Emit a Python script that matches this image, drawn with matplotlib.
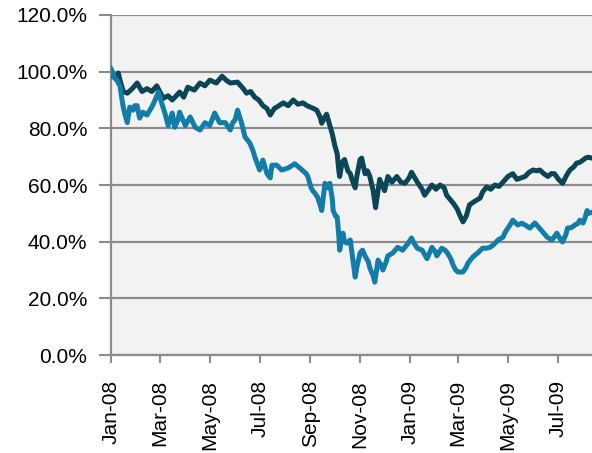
import pandas as pd
import numpy as np
import matplotlib
matplotlib.use("Agg")
import matplotlib.pyplot as plt
import matplotlib.dates as mdates
from matplotlib.ticker import FuncFormatter

# days since 1 Jan 2008, value in %
dark_days = [0, 2, 6, 9, 11, 15, 20, 26, 32, 38, 44, 50, 56, 64, 70, 75, 80, 84, 89, 94,
             102, 109, 115, 121, 129, 136, 141, 146, 155, 162, 166, 171, 176, 181, 186, 191,
             195, 200, 203, 211, 217, 223, 229, 235, 240, 244, 248, 252, 256, 258, 262, 264,
             268, 271, 274, 277, 279, 280, 283, 286, 290, 293, 295, 299, 301, 305, 307, 311,
             314, 317, 321, 324, 327, 329, 335, 339, 344, 350, 355, 360, 365, 368, 372, 376,
             381, 384, 388, 393, 398, 403, 408, 411, 415, 419, 424, 427, 431, 435, 439, 444,
             448, 452, 455, 460, 465, 470, 475, 480, 486, 492, 497, 501, 507, 512, 517, 521,
             525, 530, 535, 539, 543, 548, 553, 558, 562, 567, 570, 574, 578, 581, 584, 589]
dark_vals = [100.5, 98.5, 97.5, 99.5, 97, 93, 92.4, 94, 96, 93, 94, 93, 95, 90.6, 91.5, 90,
             91.5, 92.8, 91, 94.5, 93.5, 96, 95, 97, 96, 98.4, 97, 96, 96.3, 94, 92.4, 93,
             91, 90, 88, 87, 84.7, 87, 87.5, 89, 88, 90, 88.5, 89, 88, 87.5, 87, 86.4, 84,
             81.8, 84, 85, 81, 78, 74, 71, 65, 63, 68, 69, 65, 64, 62, 59, 63, 69, 69.5, 64,
             65, 63, 58, 52, 58, 62, 58, 63, 61, 63, 61, 60.6, 62.5, 64.5, 62.5, 60.6, 58.5,
             56.4, 58, 60, 58.5, 60, 59, 56.4, 55, 53.6, 51.5, 49.4, 47, 49, 53, 54, 54.7,
             55.4, 57.5, 59.3, 58.5, 60, 59.5, 61, 63, 64, 62, 62.4, 63, 64.5, 65.3, 65,
             65.3, 64, 63, 64, 64, 62, 60.6, 63.5, 65.3, 66.5, 67.7, 68, 68.8, 69.5, 69.8, 69.5]

blue_days = [0, 1, 4, 7, 11, 13, 15, 17, 20, 21, 23, 27, 29, 32, 35, 39, 44, 50, 54, 58,
             60, 62, 66, 70, 75, 78, 82, 84, 91, 97, 103, 109, 115, 121, 127, 133, 140, 146,
             149, 152, 155, 160, 164, 170, 174, 176, 182, 186, 191, 195, 197, 203, 209, 217,
             225, 234, 239, 241, 245, 247, 250, 253, 256, 258, 261, 262, 266, 268, 271, 272,
             275, 277, 279, 280, 284, 286, 289, 293, 296, 299, 301, 305, 308, 311, 315, 317,
             321, 323, 327, 330, 333, 337, 339, 345, 351, 357, 364, 368, 371, 375, 381, 384,
             387, 393, 397, 399, 405, 409, 412, 416, 419, 422, 425, 431, 435, 437, 443, 449,
             455, 460, 464, 468, 474, 480, 483, 486, 490, 492, 498, 503, 507, 513, 519, 524,
             527, 534, 540, 546, 550, 553, 557, 559, 564, 568, 572, 574, 578, 580, 583, 585, 589]
blue_vals = [101, 100.5, 98, 97, 95, 91, 87.5, 85, 82, 84, 87.5, 86.4, 88, 88, 83.6, 85.7,
             84.7, 87.5, 90, 92.8, 91, 89, 85.4, 81, 85.4, 80.4, 83, 85.7, 81, 84, 80.4, 79.4,
             82, 81, 85.4, 82, 82, 79.4, 82, 83, 86.4, 81.8, 77, 74.8, 72, 70, 65.3, 68.8, 64,
             62.5, 67, 67, 65.3, 66, 67.5, 65.3, 64, 63, 59, 58, 57, 55.7, 53, 51, 58, 60.6,
             59, 60.6, 55, 51, 49, 48.7, 42, 37, 43, 40, 39.5, 40.6, 34, 27.5, 31, 36, 37, 35,
             33, 30.7, 28, 25.7, 33.5, 32, 30, 33, 35, 36, 38, 37, 39.5, 41.3, 39.5, 37.7, 37,
             35.5, 34, 38, 36.5, 35, 37.7, 37, 36, 34, 31.7, 30, 29.3, 29.3, 31, 32.4, 34.6,
             36, 37.7, 37.7, 38, 38.8, 40.6, 41.6, 43.5, 44.8, 46.5, 47.6, 45.9, 46.5, 45.9,
             44.8, 46.6, 45, 44, 41.6, 40.6, 43, 41, 39.9, 42.5, 44.8, 45, 45.9, 46.5, 47.6,
             46.6, 48, 51, 50, 50.4]

tick_months = ["2008-01-01", "2008-03-01", "2008-05-01", "2008-07-01", "2008-09-01",
               "2008-11-01", "2009-01-01", "2009-03-01", "2009-05-01", "2009-07-01"]

start = pd.Timestamp("2008-01-01")
dark_dates = start + pd.to_timedelta(dark_days, unit="D")
blue_dates = start + pd.to_timedelta(blue_days, unit="D")

plt.rcParams["font.family"] = ["Liberation Sans", "DejaVu Sans"]
grey = "#8c8c8c"

fig = plt.figure(figsize=(5.92, 4.53), dpi=100)
ax = fig.add_axes([0.1875, 0.2163, 0.8125, 0.7506])
ax.set_facecolor("#f2f2f2")

ax.plot(dark_dates, dark_vals, color="#0a4656", lw=3.6, solid_joinstyle="round", zorder=3)
ax.plot(blue_dates, blue_vals, color="#117da8", lw=3.6, solid_joinstyle="round", zorder=3)

ax.set_ylim(0, 120)
ax.set_yticks(np.arange(0, 121, 20))
ax.yaxis.set_major_formatter(FuncFormatter(lambda v, p: f"{v:.1f}%"))
ax.grid(axis="y", color=grey, lw=1.6, zorder=1)

ax.set_xlim(start, start + pd.Timedelta(days=589))
ax.set_xticks(pd.to_datetime(tick_months))
ax.xaxis.set_major_formatter(mdates.DateFormatter("%b-%y"))
plt.setp(ax.get_xticklabels(), rotation=90)

for s in ["top", "right"]:
    ax.spines[s].set_visible(False)
for s in ["left", "bottom"]:
    ax.spines[s].set_color(grey)
    ax.spines[s].set_linewidth(1.6)

ax.tick_params(axis="x", colors=grey, length=6, width=1.5, pad=12, labelsize=15, labelcolor="black")
ax.tick_params(axis="y", colors=grey, length=9, width=1.5, pad=8, labelsize=15, labelcolor="black")

fig.savefig("out.png", dpi=100)
